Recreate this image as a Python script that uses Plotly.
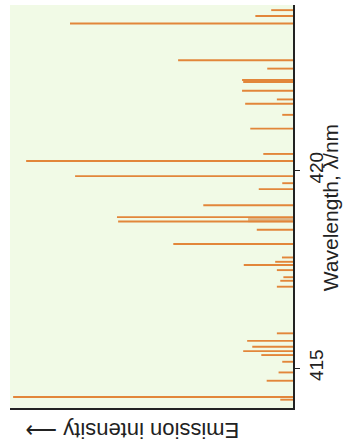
import plotly.graph_objects as go

# Emission lines: wavelength (nm) and relative intensity (0-100)
wavelengths = [424.06, 423.91, 423.72, 422.79, 422.58, 422.29, 422.24, 422.02, 421.80, 421.69,
               421.41, 421.06, 420.42, 420.24, 419.86, 419.68, 419.53, 419.12, 418.82, 418.71,
               418.50, 418.14, 417.80, 417.69, 417.61, 417.48, 417.30, 417.21, 417.06, 415.88,
               415.69, 415.54, 415.43, 415.33, 415.16, 414.89, 414.68, 414.27, 414.20]
intensities = [7.7, 13.3, 78.8, 40.6, 9.1, 18.0, 17.6, 18.0, 5.7, 16.9,
               3.8, 15.1, 10.5, 94.3, 77.0, 3.8, 12.1, 31.7, 62.2, 61.8,
               12.8, 42.3, 3.9, 6.3, 17.4, 5.7, 3.4, 4.5, 5.7, 5.7,
               16.2, 14.4, 17.6, 11.2, 3.8, 5.1, 9.3, 98.9, 4.5]

# Weak, unresolved lines (blended band)
blend_wavelengths = [418.795, 418.77, 418.745, 418.72, 422.265]
blend_intensities = [15.8, 15.8, 15.8, 15.8, 17.0]

tick_vals = [415, 420]
tick_text = ["415", "420"]


def segments(wls, ints):
    xs, ys = [], []
    for wl, inten in zip(wls, ints):
        xs += [0, inten, None]
        ys += [wl, wl, None]
    return xs, ys


FONT = "Liberation Sans, Arial, sans-serif"

fig = go.Figure()
bx, by = segments(blend_wavelengths, blend_intensities)
fig.add_trace(go.Scatter(x=bx, y=by, mode="lines",
                         line=dict(color="#DDB587", width=2.2),
                         hoverinfo="skip", showlegend=False))
xs, ys = segments(wavelengths, intensities)
fig.add_trace(go.Scatter(x=xs, y=ys, mode="lines",
                         line=dict(color="#E2863A", width=1.9),
                         hoverinfo="skip", showlegend=False))

fig.update_layout(
    width=343, height=448,
    margin=dict(l=10, r=50, t=5, b=40),
    paper_bgcolor="white",
    plot_bgcolor="#F1FAE6",
    font=dict(family=FONT, size=19, color="#222"),
    showlegend=False,
)
fig.update_xaxes(range=[100, 0], showticklabels=False, ticks="", showgrid=False,
                 zeroline=False, showline=True, linecolor="#222", linewidth=1.5,
                 mirror=False)
fig.update_yaxes(range=[413.99, 424.19], side="right", tickvals=tick_vals,
                 ticktext=tick_text, tickangle=-90, ticks="outside", ticklen=5,
                 tickcolor="#222", tickwidth=1.2, showgrid=False, zeroline=False,
                 showline=True, linecolor="#222", linewidth=1.5,
                 tickfont=dict(family=FONT, size=19, color="#222"))

fig.add_annotation(text="Wavelength, λ/nm", xref="paper", yref="paper",
                   x=1.1325, y=0.497, xanchor="center", yanchor="middle",
                   textangle=-90, showarrow=False,
                   font=dict(family=FONT, size=21, color="#222"))
fig.add_annotation(text="Emission intensity ⟶", xref="paper", yref="paper",
                   x=0.4316, y=-0.054, xanchor="center", yanchor="middle",
                   textangle=180, showarrow=False,
                   font=dict(family=FONT, size=22, color="#222"))

fig.write_html("out.html", config={"displayModeBar": False},
               post_script="document.body.style.margin='0px';")
